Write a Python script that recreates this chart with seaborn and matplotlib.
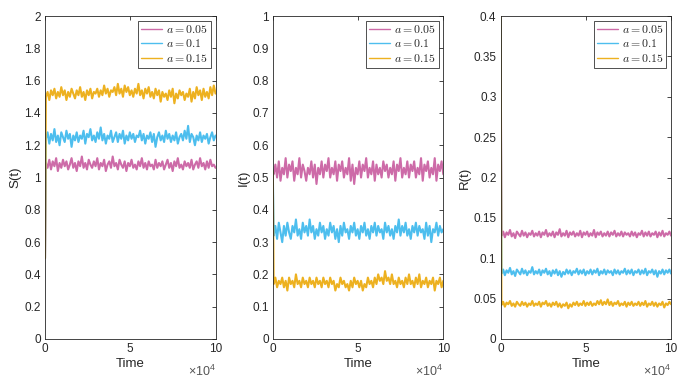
import numpy as np
import pandas as pd
import matplotlib
matplotlib.use("Agg")
import matplotlib.pyplot as plt
import seaborn as sns

labels = [r"$a=0.05$", r"$a=0.1$", r"$a=0.15$"]
colors = ["#CD6BA8", "#4DBEEE", "#EDB120"]

# initial state and the time grid of the sampled path
t0 = 0
S0, I0, R0 = 0.5, 0.52, 0.4
t_path = np.linspace(500, 100000, 100)

S_005 = [1.09,1.06,1.11,1.05,1.10,1.07,1.12,1.04,1.09,1.06,
         1.11,1.07,1.10,1.05,1.08,1.12,1.06,1.09,1.04,1.10,
         1.07,1.13,1.06,1.09,1.05,1.11,1.08,1.06,1.10,1.07,
         1.12,1.05,1.09,1.07,1.11,1.04,1.08,1.10,1.06,1.13,
         1.07,1.09,1.05,1.11,1.08,1.06,1.10,1.04,1.09,1.07,
         1.11,1.06,1.08,1.05,1.10,1.07,1.12,1.06,1.09,1.05,
         1.10,1.07,1.08,1.05,1.11,1.06,1.09,1.07,1.10,1.05,
         1.08,1.11,1.06,1.09,1.04,1.10,1.07,1.12,1.06,1.08,
         1.05,1.10,1.07,1.09,1.06,1.11,1.05,1.08,1.10,1.06,
         1.12,1.07,1.09,1.05,1.10,1.06,1.11,1.07,1.08,1.06]
S_010 = [1.24,1.28,1.21,1.27,1.23,1.30,1.22,1.26,1.20,1.28,
         1.25,1.22,1.29,1.24,1.27,1.19,1.26,1.23,1.28,1.22,
         1.26,1.24,1.29,1.21,1.27,1.25,1.30,1.23,1.26,1.22,
         1.28,1.24,1.31,1.23,1.27,1.21,1.26,1.24,1.29,1.22,
         1.25,1.28,1.22,1.27,1.24,1.29,1.21,1.26,1.23,1.28,
         1.24,1.27,1.22,1.26,1.25,1.29,1.23,1.27,1.21,1.26,
         1.24,1.28,1.22,1.27,1.19,1.25,1.28,1.23,1.26,1.22,
         1.29,1.24,1.27,1.22,1.26,1.23,1.28,1.21,1.25,1.27,
         1.23,1.29,1.24,1.32,1.22,1.27,1.25,1.20,1.26,1.23,
         1.28,1.22,1.26,1.24,1.27,1.21,1.25,1.28,1.23,1.26]
S_015 = [1.50,1.53,1.48,1.54,1.51,1.55,1.49,1.53,1.50,1.56,
         1.51,1.54,1.48,1.53,1.50,1.55,1.52,1.49,1.54,1.51,
         1.56,1.50,1.53,1.48,1.54,1.51,1.55,1.49,1.53,1.52,
         1.55,1.50,1.54,1.51,1.57,1.52,1.55,1.50,1.54,1.53,
         1.56,1.51,1.58,1.52,1.55,1.50,1.57,1.53,1.56,1.51,
         1.54,1.50,1.55,1.52,1.58,1.51,1.54,1.49,1.55,1.52,
         1.56,1.50,1.53,1.49,1.55,1.51,1.54,1.47,1.53,1.50,
         1.52,1.48,1.54,1.50,1.55,1.46,1.52,1.49,1.54,1.51,
         1.53,1.48,1.52,1.50,1.55,1.47,1.53,1.49,1.56,1.51,
         1.54,1.48,1.55,1.50,1.53,1.49,1.56,1.51,1.57,1.52]

I_005 = [0.51,0.54,0.50,0.55,0.49,0.53,0.51,0.56,0.50,0.54,
         0.52,0.55,0.49,0.53,0.51,0.56,0.50,0.54,0.52,0.49,
         0.53,0.51,0.55,0.50,0.54,0.48,0.53,0.51,0.55,0.50,
         0.54,0.52,0.56,0.50,0.53,0.51,0.55,0.49,0.54,0.52,
         0.55,0.50,0.53,0.51,0.56,0.49,0.54,0.48,0.53,0.51,
         0.55,0.50,0.54,0.52,0.56,0.50,0.53,0.51,0.55,0.49,
         0.54,0.51,0.53,0.50,0.55,0.52,0.54,0.50,0.53,0.51,
         0.55,0.49,0.54,0.52,0.56,0.50,0.53,0.51,0.55,0.50,
         0.54,0.52,0.55,0.50,0.53,0.51,0.56,0.49,0.54,0.52,
         0.55,0.50,0.53,0.51,0.56,0.49,0.54,0.52,0.55,0.51]
I_010 = [0.32,0.35,0.31,0.36,0.33,0.30,0.35,0.32,0.36,0.33,
         0.31,0.35,0.33,0.37,0.32,0.34,0.31,0.36,0.33,0.35,
         0.32,0.37,0.33,0.35,0.31,0.34,0.32,0.36,0.33,0.35,
         0.31,0.34,0.32,0.36,0.33,0.35,0.31,0.34,0.30,0.35,
         0.32,0.36,0.33,0.34,0.31,0.35,0.33,0.36,0.32,0.34,
         0.31,0.35,0.33,0.36,0.32,0.34,0.31,0.35,0.33,0.36,
         0.32,0.35,0.33,0.34,0.31,0.36,0.33,0.35,0.32,0.34,
         0.31,0.35,0.33,0.37,0.32,0.35,0.33,0.36,0.32,0.34,
         0.31,0.35,0.33,0.36,0.32,0.35,0.33,0.34,0.31,0.36,
         0.32,0.35,0.30,0.34,0.33,0.36,0.32,0.35,0.33,0.34]
I_015 = [0.17,0.19,0.16,0.18,0.17,0.19,0.16,0.18,0.15,0.19,
         0.17,0.18,0.16,0.20,0.17,0.18,0.16,0.19,0.17,0.18,
         0.16,0.19,0.17,0.18,0.16,0.19,0.17,0.18,0.16,0.19,
         0.17,0.18,0.16,0.19,0.17,0.18,0.15,0.17,0.16,0.19,
         0.17,0.18,0.16,0.17,0.15,0.18,0.16,0.19,0.17,0.18,
         0.16,0.18,0.15,0.17,0.16,0.19,0.17,0.18,0.16,0.19,
         0.17,0.20,0.18,0.19,0.17,0.21,0.18,0.19,0.17,0.20,
         0.17,0.18,0.16,0.19,0.17,0.18,0.16,0.19,0.17,0.20,
         0.17,0.18,0.16,0.19,0.17,0.20,0.16,0.18,0.17,0.19,
         0.16,0.18,0.17,0.19,0.15,0.18,0.17,0.19,0.16,0.18]

R_005 = [0.128,0.133,0.126,0.132,0.129,0.135,0.127,0.131,0.125,0.133,
         0.130,0.127,0.134,0.128,0.132,0.126,0.131,0.129,0.134,0.127,
         0.131,0.128,0.133,0.126,0.132,0.129,0.135,0.127,0.131,0.128,
         0.133,0.126,0.132,0.129,0.136,0.127,0.131,0.128,0.134,0.126,
         0.132,0.129,0.133,0.127,0.131,0.128,0.134,0.126,0.132,0.129,
         0.133,0.127,0.131,0.128,0.135,0.126,0.132,0.129,0.133,0.127,
         0.131,0.128,0.133,0.127,0.132,0.129,0.134,0.127,0.131,0.128,
         0.133,0.127,0.132,0.129,0.131,0.127,0.133,0.128,0.132,0.126,
         0.131,0.129,0.134,0.127,0.132,0.128,0.133,0.127,0.131,0.129,
         0.133,0.126,0.132,0.128,0.134,0.127,0.131,0.129,0.133,0.128]
R_010 = [0.081,0.086,0.079,0.085,0.082,0.088,0.080,0.084,0.078,0.086,
         0.083,0.080,0.087,0.081,0.085,0.079,0.084,0.082,0.089,0.080,
         0.084,0.081,0.086,0.079,0.085,0.082,0.087,0.080,0.084,0.078,
         0.085,0.081,0.086,0.079,0.084,0.077,0.083,0.080,0.086,0.081,
         0.085,0.079,0.084,0.082,0.087,0.080,0.085,0.081,0.086,0.079,
         0.084,0.081,0.086,0.080,0.085,0.082,0.087,0.079,0.084,0.081,
         0.086,0.080,0.085,0.082,0.084,0.079,0.086,0.081,0.085,0.080,
         0.084,0.082,0.087,0.080,0.085,0.081,0.086,0.079,0.084,0.082,
         0.086,0.080,0.085,0.081,0.087,0.079,0.084,0.082,0.086,0.080,
         0.085,0.077,0.084,0.081,0.086,0.080,0.085,0.082,0.086,0.081]
R_015 = [0.042,0.046,0.040,0.045,0.043,0.047,0.041,0.044,0.040,0.046,
         0.043,0.041,0.046,0.042,0.045,0.040,0.044,0.042,0.047,0.041,
         0.044,0.042,0.046,0.040,0.045,0.043,0.047,0.041,0.044,0.040,
         0.045,0.042,0.046,0.040,0.044,0.039,0.043,0.041,0.045,0.038,
         0.043,0.040,0.045,0.042,0.046,0.041,0.044,0.042,0.047,0.041,
         0.045,0.042,0.046,0.041,0.044,0.042,0.047,0.043,0.048,0.042,
         0.046,0.043,0.049,0.042,0.046,0.041,0.045,0.043,0.047,0.041,
         0.044,0.042,0.046,0.040,0.045,0.042,0.046,0.041,0.044,0.042,
         0.046,0.041,0.045,0.042,0.047,0.040,0.044,0.042,0.046,0.041,
         0.045,0.040,0.044,0.042,0.046,0.039,0.044,0.042,0.046,0.043]

panels = [
    ("S(t)", S0, [S_005, S_010, S_015], 2.0, np.arange(0, 2.01, 0.2)),
    ("I(t)", I0, [I_005, I_010, I_015], 1.0, np.arange(0, 1.01, 0.1)),
    ("R(t)", R0, [R_005, R_010, R_015], 0.4, np.arange(0, 0.401, 0.05)),
]

sns.set_style("white")
plt.rcParams['font.family'] = ['Liberation Sans', 'DejaVu Sans']
plt.rcParams['mathtext.fontset'] = 'cm'
dark = "#262626"

fig = plt.figure(figsize=(6.82, 3.83), dpi=100)
lefts = [0.066, 0.400, 0.734]

for (ylab, y0, series, ytop, yticks), left in zip(panels, lefts):
    ax = fig.add_axes([left, 0.115, 0.25, 0.843])
    frames = []
    for lab, vals in zip(labels, series):
        frames.append(pd.DataFrame({"Time": np.r_[t0, t_path],
                                    "value": np.r_[y0, vals],
                                    "case": lab}))
    df = pd.concat(frames, ignore_index=True)
    sns.lineplot(data=df, x="Time", y="value", hue="case", hue_order=labels,
                 palette=colors, estimator=None, sort=False, linewidth=1.5,
                 ax=ax)
    ax.set_xlim(0, 100000)
    ax.set_ylim(0, ytop)
    ax.set_xticks([0, 50000, 100000])
    ax.set_xticklabels(["0", "5", "10"])
    ax.set_yticks(yticks)
    ax.set_yticklabels(["%g" % round(v, 2) for v in yticks])
    ax.tick_params(direction="in", length=3, width=0.6, top=True, right=True,
                   labelsize=8.5, colors=dark, pad=3)
    for sp in ax.spines.values():
        sp.set_visible(True)
        sp.set_color(dark)
        sp.set_linewidth(0.6)
    ax.set_xlabel("Time", fontsize=9.5, color=dark, labelpad=2)
    ax.set_ylabel(ylab, fontsize=9.5, color=dark, labelpad=2)
    # exponent of the x axis, MATLAB style
    ax.text(1.0, -0.102, r"$\mathregular{\times10^4}$", transform=ax.transAxes,
            ha="right", va="center", fontsize=9, color="#555555")
    leg = ax.legend(loc="upper right", fontsize=8.5, frameon=True,
                    fancybox=False, edgecolor="black", handlelength=1.8,
                    handletextpad=0.3, borderpad=0.25, labelspacing=0.22,
                    borderaxespad=0.4)
    leg.get_frame().set_linewidth(0.6)
    for line in leg.get_lines():
        line.set_linewidth(1.0)
    leg.set_title(None)

fig.savefig("out.png", dpi=100)
